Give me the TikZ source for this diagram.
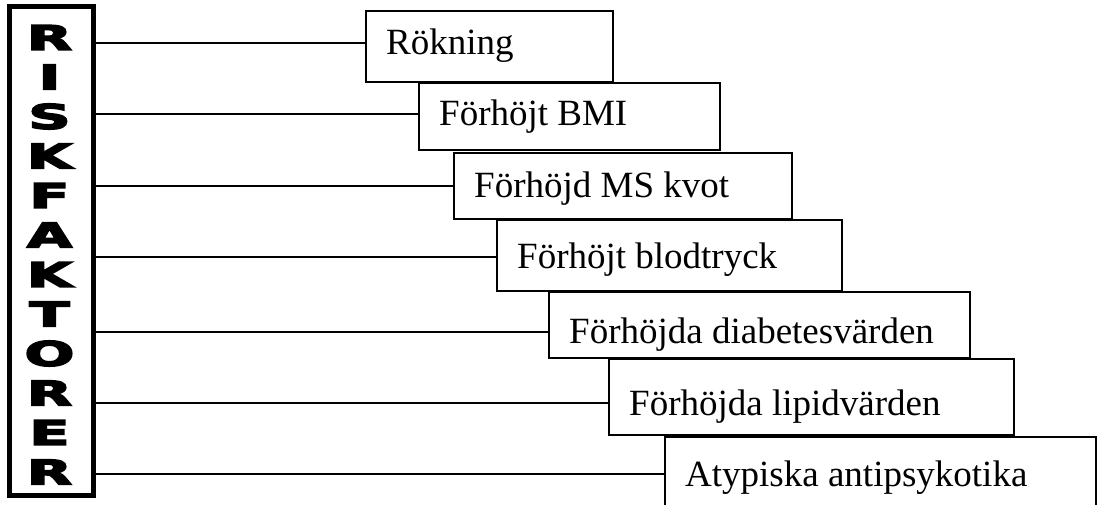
\documentclass[tikz,border=0pt]{standalone}
\usepackage{fontspec}
\setmainfont{Liberation Serif}
\newfontfamily\heavyfont[FakeBold=4]{DejaVu Sans Bold}
\usetikzlibrary{positioning}
\usetikzlibrary{calc}

\begin{document}
\begin{tikzpicture}[x=1pt,y=-1pt]
			\tikzstyle{riskbox}=[draw,line width=2.6pt,anchor=north west,inner sep=0pt,outer sep=0pt]
			\tikzstyle{risktext}=[anchor=west,inner sep=0pt,text height=24pt,text depth=0pt,font=\fontsize{37}{40}\selectfont]
			\tikzstyle{letter}=[inner sep=0pt,xscale=1.72,font=\heavyfont\fontsize{34}{36}\selectfont]
			\tikzstyle{link}=[-,line width=2.2pt]

			\useasboundingbox (0,0) rectangle (1104,505);
			\clip (0,0) rectangle (1104,505);

			% left column
			\node (risk) [draw,line width=5pt,minimum width=84pt,minimum height=489pt,inner sep=0pt] at (51.5,251) {};
			\foreach \l [count=\i] in {R,I,S,K,F,A,K,T,O,R,E,R}
				\node (l\i) [letter] at (49.5,{37.5+(\i-1)*39.5}) {\l};

			% boxes (left, top, width, height)
			\node (b1) [riskbox,minimum width=247pt,minimum height=71pt] at (366,11) {};
			\node (b2) [riskbox,minimum width=301pt,minimum height=67pt] at (419,83) {};
			\node (b3) [riskbox,minimum width=338pt,minimum height=66pt] at (454,153) {};
			\node (b4) [riskbox,minimum width=345pt,minimum height=71pt] at (497,220) {};
			\node (b5) [riskbox,minimum width=421pt,minimum height=66pt] at (549,292) {};
			\node (b6) [riskbox,minimum width=405pt,minimum height=76pt] at (609,359) {};
			\node (b7) [riskbox,minimum width=431pt,minimum height=90pt] at (665,437) {};

			\node (t1) [risktext] at (386,43) {Rökning};
			\node (t2) [risktext] at (439,114) {Förhöjt BMI};
			\node (t3) [risktext] at (474,186) {Förhöjd MS kvot};
			\node (t4) [risktext] at (517,257) {Förhöjt blodtryck};
			\node (t5) [risktext] at (569,332) {Förhöjda diabetesvärden};
			\node (t6) [risktext] at (629,403) {Förhöjda lipidvärden};
			\node (t7) [risktext] at (685,474) {Atypiska antipsykotika};

			\foreach \i in {1,...,7}
				\draw[link] (risk.east |- t\i.west) -- (b\i.west |- t\i.west);

\end{tikzpicture}
\end{document}
